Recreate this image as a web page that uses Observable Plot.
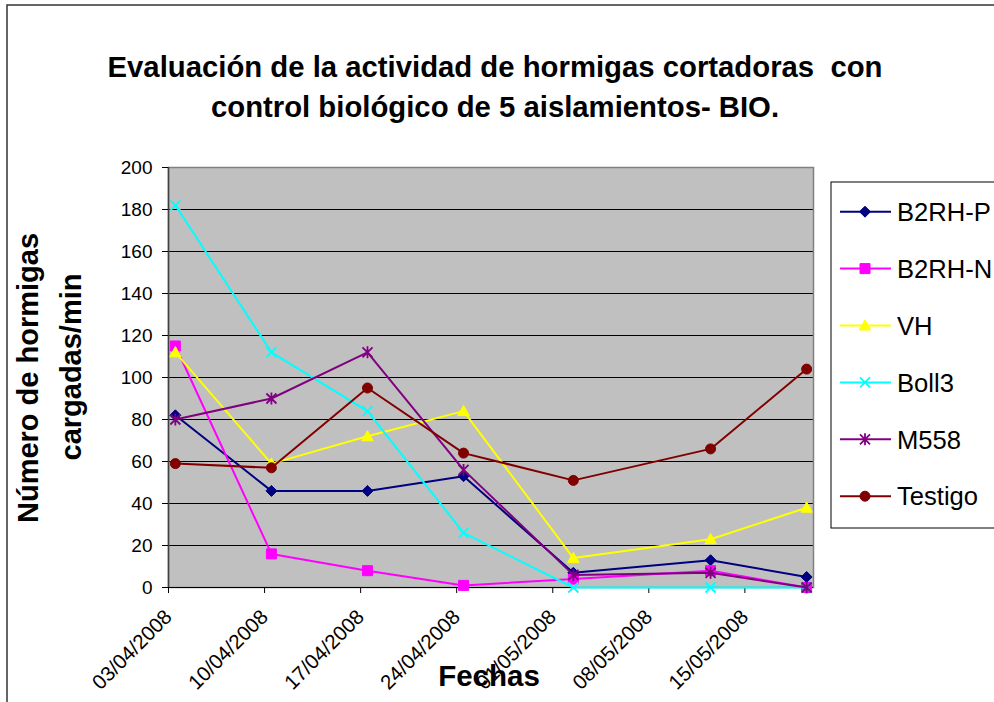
<!DOCTYPE html>
<html>
<head>
<meta charset="utf-8">
<script src="https://cdn.jsdelivr.net/npm/d3@7"></script>
<script src="https://cdn.jsdelivr.net/npm/@observablehq/plot@0.6"></script>
<style>
  body { margin: 0; background: #fff; }
  #chart svg { display: block; }
</style>
</head>
<body>
<div id="chart"></div>
<script>
// ---- data ----
const dates = ["2008-04-03", "2008-04-10", "2008-04-17", "2008-04-24", "2008-05-02", "2008-05-12", "2008-05-19"];
const seriesNames = ["B2RH-P", "B2RH-N", "VH", "Boll3", "M558", "Testigo"];
const b2rhP   = [82, 46, 46, 53, 7, 13, 5];
const b2rhN   = [115, 16, 8, 1, 4, 8, 0];
const vh      = [112, 59, 72, 84, 14, 23, 38];
const boll3   = [182, 112, 84, 26, 0, 0, 0];
const m558    = [80, 90, 112, 56, 6, 7, 0];
const testigo = [59, 57, 95, 64, 51, 66, 104];
const tickLabels = ["03/04/2008", "10/04/2008", "17/04/2008", "24/04/2008", "01/05/2008", "08/05/2008", "15/05/2008"];
const yTicks = [0, 20, 40, 60, 80, 100, 120, 140, 160, 180, 200];
const axisStart = "03/04/2008";
const axisEnd = "20/05/2008";
const titleLines = ["Evaluación de la actividad de hormigas cortadoras  con", "control biológico de 5 aislamientos- BIO."];
const yTitleLines = ["Número de hormigas", "cargadas/min"];
const xTitle = "Fechas";

// ---- styles ----
const seriesValues = [b2rhP, b2rhN, vh, boll3, m558, testigo];
const colors = ["#000080", "#FF00FF", "#FFFF00", "#00FFFF", "#800080", "#800000"];
const FONT = "'Liberation Sans', Arial, Helvetica, sans-serif";

const sym = {
  diamond: { draw(c, s) { const r = Math.sqrt(s / Math.PI); c.moveTo(0, -r * 1.1); c.lineTo(r * 1.1, 0); c.lineTo(0, r * 1.1); c.lineTo(-r * 1.1, 0); c.closePath(); } },
  square: { draw(c, s) { const r = Math.sqrt(s / Math.PI); c.rect(-r, -r, 2 * r, 2 * r); } },
  triangle: { draw(c, s) { const r = Math.sqrt(s / Math.PI); c.moveTo(0, -r * 1.15); c.lineTo(r * 1.15, r * 0.9); c.lineTo(-r * 1.15, r * 0.9); c.closePath(); } },
  times: { draw(c, s) { const r = Math.sqrt(s / Math.PI); c.moveTo(-r, -r); c.lineTo(r, r); c.moveTo(r, -r); c.lineTo(-r, r); } },
  asterisk: { draw(c, s) { const r = Math.sqrt(s / Math.PI); c.moveTo(-r, -r); c.lineTo(r, r); c.moveTo(r, -r); c.lineTo(-r, r); c.moveTo(0, -r * 1.2); c.lineTo(0, r * 1.2); } },
  circle: { draw(c, s) { const r = Math.sqrt(s / Math.PI); c.moveTo(r, 0); c.arc(0, 0, r, 0, 2 * Math.PI); } }
};
const symbols = [sym.diamond, sym.square, sym.triangle, sym.times, sym.asterisk, sym.circle];
const filled = [true, true, true, false, false, true];

// ---- table ----
const parseISO = d3.utcParse("%Y-%m-%d");
const parseDMY = d3.utcParse("%d/%m/%Y");
// Excel date axis places each point in the middle of its day
const table = seriesNames.map((name, i) =>
  dates.map((d, j) => ({ series: name, date: d3.utcHour.offset(parseISO(d), 12), value: seriesValues[i][j] }))
);
const tickDates = tickLabels.map(parseDMY);
const fmt = d3.utcFormat("%d/%m/%Y");

const seriesMarks = [];
table.forEach((rows, i) => {
  seriesMarks.push(Plot.line(rows, { x: "date", y: "value", stroke: colors[i], strokeWidth: 2 }));
  seriesMarks.push(Plot.dot(rows, {
    x: "date", y: "value", symbol: symbols[i], r: 5,
    fill: filled[i] ? colors[i] : "none", stroke: colors[i], strokeWidth: filled[i] ? 1 : 1.8
  }));
});

const chart = Plot.plot({
  width: 994,
  height: 702,
  marginLeft: 168,
  marginRight: 181,
  marginTop: 167,
  marginBottom: 115,
  style: { fontFamily: FONT, background: "#fff", color: "#000", overflow: "visible" },
  x: { type: "utc", domain: [parseDMY(axisStart), parseDMY(axisEnd)], label: null },
  y: { domain: [0, 200], label: null },
  marks: [
    Plot.frame({ fill: "#c0c0c0", stroke: "none" }),
    Plot.gridY(yTicks.filter(v => v > 0 && v < 200), { stroke: "#000", strokeOpacity: 1, strokeWidth: 1 }),
    Plot.frame({ stroke: "#808080", strokeWidth: 1.5 }),
    Plot.ruleX([parseDMY(axisStart)], { stroke: "#404040", strokeWidth: 1.5 }),
    Plot.ruleY([0], { stroke: "#000", strokeWidth: 1.2 }),
    Plot.axisY({ ticks: yTicks, tickSize: 6, tickPadding: 10, fontSize: 19, label: null }),
    Plot.axisX({ ticks: tickDates, tickFormat: fmt, tickRotate: -45, tickSize: 6, tickPadding: 20, fontSize: 20.5, label: null }),
    ...seriesMarks
  ]
});
document.getElementById("chart").appendChild(chart);

// ---- decorations: border, titles, legend ----
const svg = d3.select(chart);
svg.append("rect").attr("x", 7).attr("y", 5).attr("width", 1000).attr("height", 720)
  .attr("fill", "none").attr("stroke", "#333").attr("stroke-width", 1.5);

const title = svg.append("text").attr("font-family", FONT).attr("font-weight", "bold")
  .attr("font-size", 29.3).attr("text-anchor", "middle").attr("fill", "#000");
titleLines.forEach((t, i) => title.append("tspan").attr("x", 495).attr("y", 77 + i * 40).text(t));

const yt = svg.append("g").attr("font-family", FONT).attr("font-weight", "bold")
  .attr("font-size", 29).attr("text-anchor", "middle").attr("fill", "#000");
const yCenters = [378, 367], yBase = [38, 81];
yTitleLines.forEach((t, i) =>
  yt.append("text").attr("transform", `translate(${yBase[i]},${yCenters[i]}) rotate(-90)`).text(t));

svg.append("text").attr("font-family", FONT).attr("font-weight", "bold").attr("font-size", 29.5)
  .attr("text-anchor", "middle").attr("x", 489).attr("y", 686).attr("fill", "#000").text(xTitle);

const leg = svg.append("g").attr("text-anchor", "start");
leg.append("rect").attr("x", 831).attr("y", 182).attr("width", 200).attr("height", 346)
  .attr("fill", "#fff").attr("stroke", "#000").attr("stroke-width", 1);
seriesNames.forEach((name, i) => {
  const cy = 211.7 + i * 56.9;
  leg.append("line").attr("x1", 840).attr("x2", 891).attr("y1", cy).attr("y2", cy)
    .attr("stroke", colors[i]).attr("stroke-width", 2);
  const p = d3.path();
  symbols[i].draw(p, 25 * Math.PI);
  leg.append("path").attr("d", p.toString()).attr("transform", `translate(865,${cy})`)
    .attr("fill", filled[i] ? colors[i] : "none").attr("stroke", colors[i]).attr("stroke-width", filled[i] ? 1 : 1.8);
  leg.append("text").attr("x", 897).attr("y", cy + 9.2).attr("text-anchor", "start")
    .attr("font-family", FONT).attr("font-size", 25.6).attr("fill", "#000").text(name);
});
</script>
</body>
</html>
